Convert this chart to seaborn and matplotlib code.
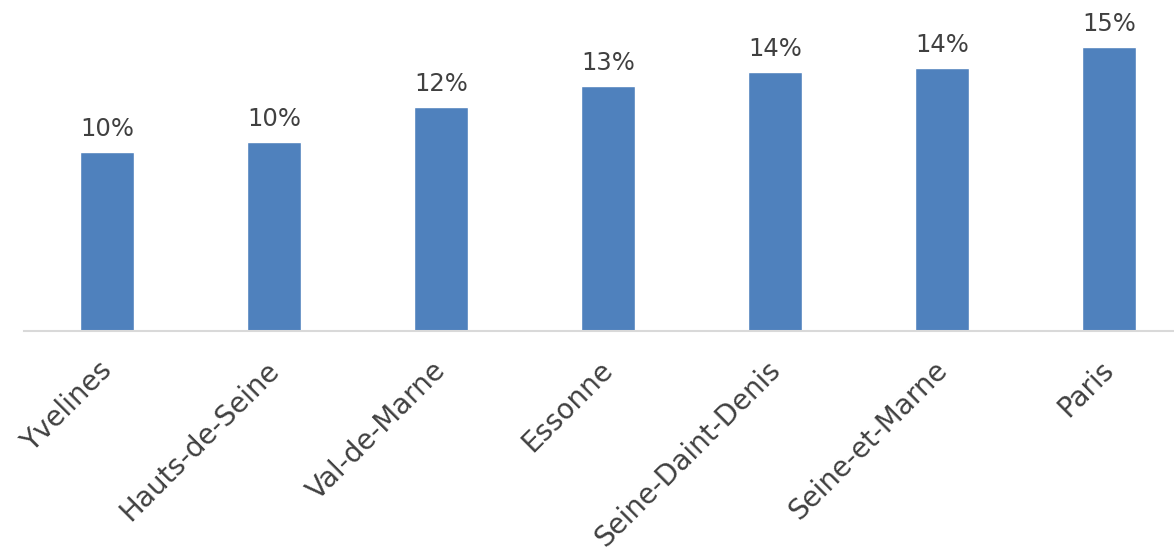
import pandas as pd
import matplotlib
matplotlib.use("Agg")
import matplotlib.pyplot as plt
import matplotlib.transforms as mtransforms
import seaborn as sns

# Données
departements = ["Yvelines", "Hauts-de-Seine", "Val-de-Marne", "Essonne",
                "Seine-Daint-Denis", "Seine-et-Marne", "Paris"]
taux = [0.097, 0.102, 0.120, 0.131, 0.138, 0.140, 0.151]

data = pd.DataFrame({"departement": departements, "taux": taux})

sns.set_style("white")
plt.rcParams["font.family"] = ["DejaVu Sans"]

fig = plt.figure(figsize=(11.74, 5.47), dpi=100)
ax = fig.add_axes([23.5 / 1174, 216 / 547, 1169 / 1174, 331 / 547])

sns.barplot(data=data, x="departement", y="taux", color="#4F81BD",
            saturation=1, width=0.32, ax=ax)

ax.set_ylim(0.005, 0.1752)
ax.set_xlim(-0.5, len(departements) - 0.5)

# Étiquettes au-dessus des barres
for bar, v in zip(ax.patches, taux):
    ax.annotate(f"{v:.0%}", (bar.get_x() + bar.get_width() / 2, bar.get_height() + bar.get_y()),
                xytext=(0, 8), textcoords="offset points",
                ha="center", va="bottom", fontsize=17.5, color="#404040")

ax.set_xlabel("")
ax.set_ylabel("")
ax.set_yticks([])
for s in ["top", "left", "right"]:
    ax.spines[s].set_visible(False)
ax.spines["bottom"].set_color("#D9D9D9")
ax.spines["bottom"].set_linewidth(1.5)

ax.tick_params(axis="x", length=0, pad=18, labelsize=20, labelcolor="#404040")
decalage = mtransforms.ScaledTranslation(-9 / 100, 0, fig.dpi_scale_trans)
for lab in ax.get_xticklabels():
    lab.set_rotation(45)
    lab.set_ha("right")
    lab.set_rotation_mode("anchor")
    lab.set_transform(lab.get_transform() + decalage)

fig.savefig("out.png", dpi=100)
